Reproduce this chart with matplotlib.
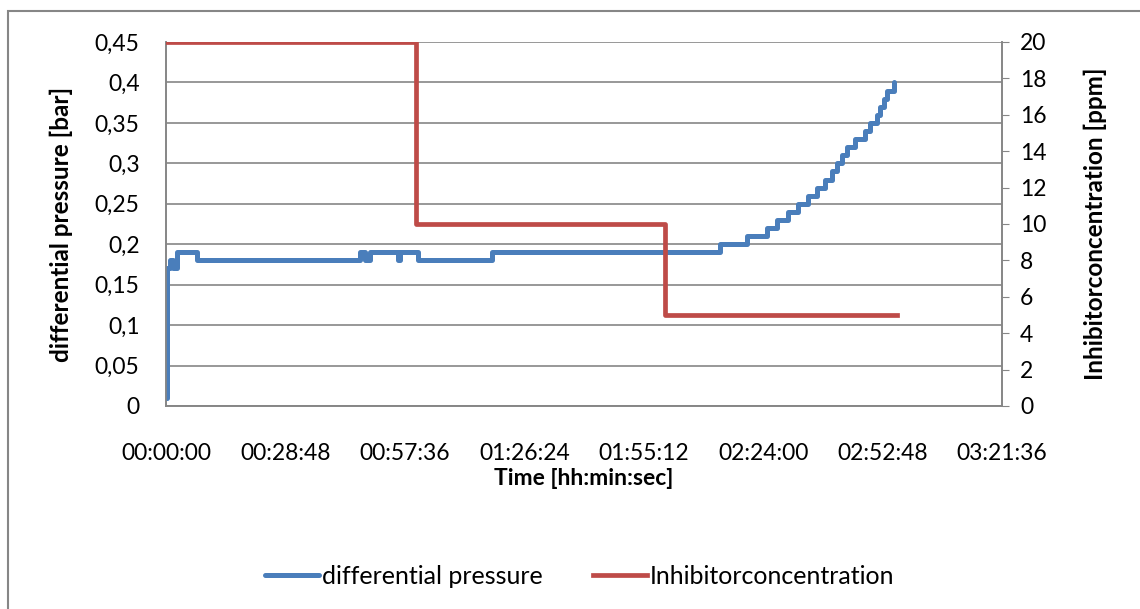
import matplotlib.pyplot as plt
from matplotlib.ticker import FuncFormatter, MultipleLocator
from matplotlib.patches import Rectangle

plt.rcParams['font.family'] = ['Lato', 'DejaVu Sans']

# differential pressure steps: time [s], value [bar]
dp_time = [0, 20, 58, 100, 159, 449, 2807, 2880, 2908, 2952, 3357, 3386, 3646, 4717,
           8016, 8407, 8696, 8841, 9000, 9144, 9289, 9419, 9535, 9636, 9709,
           9781, 9853, 9969, 10114, 10186, 10288, 10331, 10389, 10432, 10534]
dp_val = [0.01, 0.17, 0.18, 0.17, 0.19, 0.18, 0.19, 0.18, 0.18, 0.19, 0.18, 0.19, 0.18, 0.19,
          0.20, 0.21, 0.22, 0.23, 0.24, 0.25, 0.26, 0.27, 0.28, 0.29, 0.30,
          0.31, 0.32, 0.33, 0.34, 0.35, 0.36, 0.37, 0.38, 0.39, 0.40]

# inhibitor concentration steps: time [s], value [ppm]
inh_time = [0, 3618, 7221, 10577]
inh_val = [20, 10, 5, 5]

blue = '#4a7ebb'
red = '#be4b48'
grid = '#868686'
fs = 16.5

fig = plt.figure(figsize=(11.4, 6.09), dpi=100)
fig.patches.append(Rectangle((8 / 1140, -0.1), 1.2, 1 - 11 / 609 + 0.1,
                             transform=fig.transFigure, fill=False,
                             edgecolor=grid, linewidth=1.5))

ax = fig.add_axes([166 / 1140, 1 - 406 / 609, 836 / 1140, 364 / 609])
ax2 = ax.twinx()

l1, = ax.step(dp_time, dp_val, where='post', color=blue, linewidth=3.6,
              solid_capstyle='round', solid_joinstyle='round', zorder=3)
l2, = ax2.step(inh_time, inh_val, where='post', color=red, linewidth=3.4,
               zorder=3)

ax.set_xlim(0, 12096)
ax.set_ylim(0, 0.45)
ax2.set_ylim(0, 20)
ax.xaxis.set_major_locator(MultipleLocator(1728))
ax.yaxis.set_major_locator(MultipleLocator(0.05))
ax2.yaxis.set_major_locator(MultipleLocator(2))


def hms(x, pos):
    s = int(round(x))
    return '%02d:%02d:%02d' % (s // 3600, (s % 3600) // 60, s % 60)


def comma(x, pos):
    s = ('%.2f' % x).rstrip('0').rstrip('.')
    return s.replace('.', ',')


ax.xaxis.set_major_formatter(FuncFormatter(hms))
ax.yaxis.set_major_formatter(FuncFormatter(comma))

ax.yaxis.grid(True, color=grid, linewidth=1.2)
ax.set_axisbelow(True)
for a in (ax, ax2):
    a.spines['top'].set_visible(False)
    for side in ('left', 'right', 'bottom'):
        a.spines[side].set_color(grid)
        a.spines[side].set_linewidth(1.2)
ax.tick_params(axis='y', length=0, labelsize=fs, pad=19)
ax.tick_params(axis='x', length=0, labelsize=fs, pad=27)
ax2.tick_params(axis='y', length=5, color=grid, labelsize=fs, pad=8)

ax.set_xlabel('Time [hh:min:sec]', fontsize=fs, fontweight='bold', labelpad=2.5)
ax.set_ylabel('differential pressure [bar]', fontsize=17.5, fontweight='bold')
ax2.set_ylabel('Inhibitorconcentration [ppm]', fontsize=17.5, fontweight='bold')
ax.yaxis.set_label_coords((73 - 166) / 836, 0.5)
ax2.yaxis.set_label_coords((1084 - 166) / 836, 0.5)

fig.legend([l1, l2], ['differential pressure', 'Inhibitorconcentration'],
           loc='center', bbox_to_anchor=(580 / 1140, 1 - 576 / 609), ncol=2,
           frameon=False, fontsize=18, handlelength=2.16, handletextpad=0.12,
           columnspacing=2.0)

fig.savefig('out.png', dpi=100)
